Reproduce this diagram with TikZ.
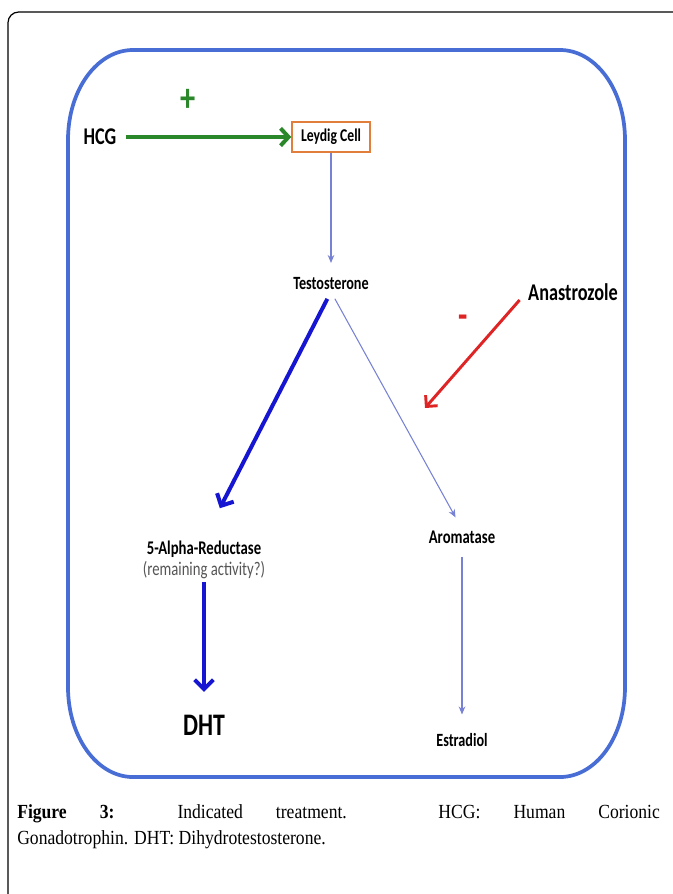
\documentclass[tikz,border=0pt]{standalone}
\usepackage{fontspec}
\setmainfont{Liberation Serif}
\newfontfamily\lblfont[FakeStretch=0.76]{Carlito}
\newfontfamily\capfont[FakeStretch=0.88]{Liberation Serif}
\usetikzlibrary{arrows,arrows.meta,positioning,calc}
\definecolor{frameblue}{RGB}{72,110,214}
\definecolor{deepblue}{RGB}{22,22,210}
\definecolor{paleblue}{RGB}{120,130,212}
\definecolor{hcggreen}{RGB}{42,135,42}
\definecolor{inhred}{RGB}{222,36,36}
\definecolor{cellorange}{RGB}{226,126,60}
\definecolor{notegray}{RGB}{85,85,85}
\tikzset{
    %Define standard arrow tip
    >=stealth',
    % Labels of the pathway
    lbl/.style={
           font=\lblfont\bfseries\fontsize{#1}{#1}\selectfont,
           inner sep=1pt},
    % Box round the cell
    cell/.style={
           rectangle,
           draw=cellorange, line width=1.6pt,
           minimum width=58pt,
           minimum height=22pt,
           inner sep=2pt,
           font=\lblfont\bfseries\fontsize{13.5}{13.5}\selectfont},
    % Plus and minus signs
    sign/.style={
           font=\lblfont\bfseries\fontsize{30}{30}\selectfont,
           inner sep=0pt},
    % Thin conversion arrow
    thinpil/.style={
           -{Stealth[length=6pt,width=5pt]},
           draw=paleblue, line width=0.8pt},
    % Thick conversion arrow
    thickpil/.style={
           -{Straight Barb[length=7pt,width=14pt]},
           draw=deepblue, line width=3pt},
    % Stimulation arrow
    greenpil/.style={
           -{Straight Barb[length=6pt,width=13pt]},
           draw=hcggreen, line width=3pt},
    % Inhibition arrow
    redpil/.style={
           -{Straight Barb[length=6pt,width=12pt]},
           draw=inhred, line width=2.2pt}
}
\begin{document}
\begin{tikzpicture}[x=0.75pt, y=-0.75pt]
    \useasboundingbox (0,0) rectangle (673,894);
    % page frame
    \draw[black, line width=0.9pt, rounded corners=8pt] (8,900) -- (8,12) -- (690,12);
    % rounded frame round the scheme
    \draw[frameblue, line width=2.8pt] (133,50) -- (560,50)
        .. controls (596,50) and (625,90) .. (625,140) -- (625,687)
        .. controls (625,737) and (596,777) .. (560,777) -- (133,777)
        .. controls (97,777) and (68,737) .. (68,687) -- (68,140)
        .. controls (68,90) and (97,50) .. (133,50) -- cycle;

    \node[lbl=18] (hcg) at (100,137) {HCG};
    \node[cell] (leydig) at (331,137) {Leydig Cell};
    \node[sign, text=hcggreen] (plus) at (188,100) {+};
    \node[lbl=14] (testo) at (331,284) {Testosterone};
    \node[lbl=18] (anas) at (573,292) {Anastrozole};
    \node[sign, text=inhred] (minus) at (463,322) {-};
    \node[lbl=14.5] (alpha) at (204,549) {5-Alpha-Reductase};
    \node[below=1pt of alpha, inner sep=1pt, text=notegray,
          font=\lblfont\fontsize{14.5}{14.5}\selectfont] (rest) {(remaining activity?)};
    \node[lbl=14.5] (aroma) at (462,537) {Aromatase};
    \node[lbl=23.5] (dht) at (204,725) {DHT};
    \node[lbl=14] (estra) at (462,740) {Estradiol};
    \coordinate (block) at (425,408);

    \draw[greenpil, shorten <=6pt] (hcg) -- (leydig);
    \draw[thinpil, shorten >=10pt] (leydig) -- (testo);
    \draw[thickpil, shorten <=6pt, shorten >=26pt] (testo.south) -- (alpha.north);
    \draw[thinpil, shorten <=6pt, shorten >=10pt] (testo.south) -- (aroma.north);
    \draw[redpil, shorten <=8pt] (anas.west) -- (block);
    \draw[thickpil, shorten <=1pt, shorten >=16pt] (rest) -- (dht);
    \draw[thinpil, shorten <=9pt, shorten >=13pt] (aroma) -- (estra);

    \node[anchor=north west, text width=482pt, align=justify, inner sep=0pt,
          font=\capfont\fontsize{15}{19.5}\selectfont] (caption) at (17,804)
    {\textbf{Figure 3:} Indicated treatment. HCG: Human Corionic\linebreak
     Gonadotrophin. DHT: Dihydrotestosterone.};
\end{tikzpicture}
\end{document}
